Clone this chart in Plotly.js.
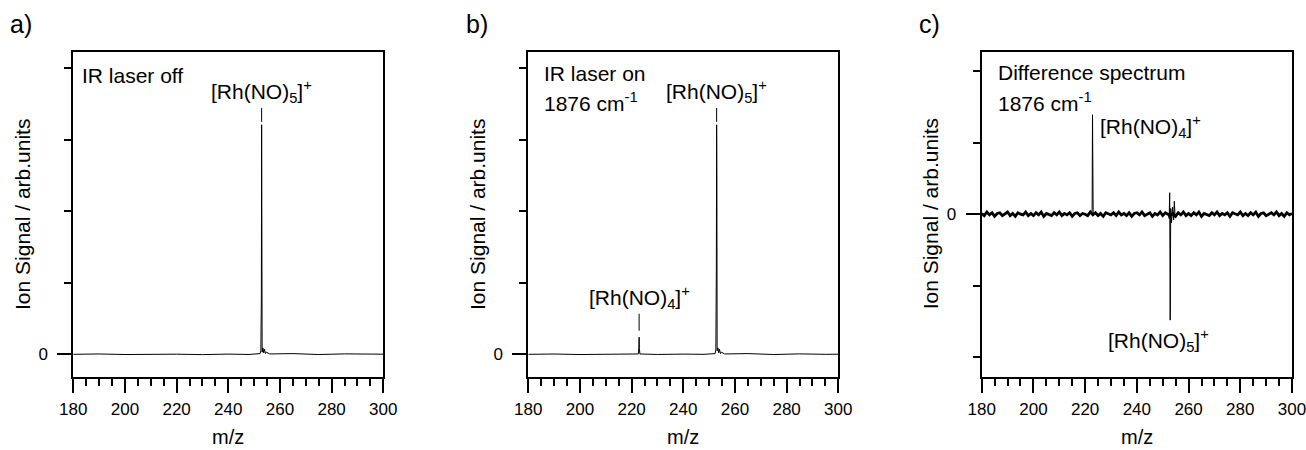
<!DOCTYPE html>
<html>
<head>
<meta charset="utf-8">
<script src="https://cdn.plot.ly/plotly-3.0.1.min.js"></script>
<style>html,body{margin:0;padding:0;background:#fff;}#chart{width:1306px;height:450px;}</style>
</head>
<body>
<div id="chart"></div>
<script>
// ---- data (m/z, ion signal in arbitrary units) ----
const mzA  = [180, 190, 200, 210, 220, 230, 240, 248, 252.3, 252.6, 252.8, 252.9, 253.0, 253.1, 253.4, 253.7, 254.0, 254.4, 254.8, 256, 265, 275, 285, 295, 300];
const intA = [0, 0.005, -0.003, 0.004, 0.002, -0.004, 0.003, -0.002, 0.01, 0.05, 0.8, 3.21, 0.75, 0.03, 0.09, 0.02, 0.07, 0.01, 0.03, 0.005, 0.01, -0.003, 0.006, 0.0, 0.002];

const mzB  = [180, 190, 200, 210, 218, 222.6, 222.8, 222.9, 223.0, 223.2, 230, 240, 248, 252.3, 252.6, 252.8, 252.9, 253.0, 253.1, 253.4, 253.7, 254.0, 254.4, 254.8, 256, 265, 275, 285, 295, 300];
const intB = [0, 0.004, -0.003, 0.003, 0.0, 0.005, 0.1, 0.24, 0.08, 0.005, -0.002, 0.003, 0.0, 0.01, 0.06, 1.22, 3.21, 2.48, 0.05, 0.09, 0.02, 0.07, 0.01, 0.03, 0.005, 0.01, -0.003, 0.006, 0.0, 0.002];

// difference spectrum: baseline noise sampled every 1 m/z from 180
const noiseC = [0.01,-0.02,0.03,-0.01,0.02,-0.03,0.01,0.02,-0.02,0.00,0.03,-0.02,0.01,-0.03,0.02,0.00,-0.01,0.03,-0.02,0.01,
 -0.02,0.02,-0.01,0.03,-0.03,0.01,0.00,-0.02,0.02,-0.01,0.03,-0.02,0.01,-0.01,0.02,-0.03,0.01,0.02,-0.02,0.01,
 0.00,-0.02,0.03,-0.01,0.02,-0.02,0.01,-0.03,0.02,0.00,-0.01,0.02,-0.02,0.03,-0.01,0.01,-0.02,0.02,-0.03,0.01,
 0.02,-0.01,0.03,-0.02,0.00,0.02,-0.03,0.01,-0.01,0.03,-0.02,0.02,0.00,-0.02,0.01,-0.03,0.02,-0.01,0.03,-0.02,
 0.01,-0.02,0.02,-0.01,0.03,-0.03,0.01,0.00,-0.02,0.02,-0.01,0.03,-0.02,0.01,-0.01,0.02,-0.03,0.02,0.00,-0.01,
 0.03,-0.02,0.01,-0.02,0.02,-0.01,0.03,-0.03,0.01,0.02,-0.02,0.00,0.02,-0.01,0.03,-0.02,0.01,-0.03,0.02,-0.01,0.01];
const mzCpk1  = [222.5, 222.7, 222.85, 222.95, 223.1, 223.3];
const intCpk1 = [0.0, 0.06, 1.39, 0.12, 0.03, 0.0];
const mzCpk2  = [252.2, 252.5, 252.7, 252.9, 253.1, 253.4, 253.8, 254.2, 254.5, 254.8, 255.2];
const intCpk2 = [0.0, -0.06, 0.30, -1.48, 0.08, -0.12, 0.10, -0.08, 0.18, -0.05, 0.0];

// peak labels
const lblNO5 = '[Rh(NO)<sub>5</sub>]<sup>+</sup>';
const lblNO4 = '[Rh(NO)<sub>4</sub>]<sup>+</sup>';
const peakNO5 = 252.9, peakNO4 = 222.9;

const xTickVals = [180, 200, 220, 240, 260, 280, 300];
const yTickAB = [0, 1, 2, 3, 4];
const yTickC  = [-2, -1, 0, 1, 2];
const xTitle = 'm/z';
const yTitle = 'Ion Signal / arb.units';

// ---- styling ----
const FONT = 'Liberation Sans, Arial, Helvetica, sans-serif';
const yDom = [1 - 376.7/450, 1 - 51.7/450];
function xAx(dom, anchor){
  return {domain: dom, anchor: anchor, range: [180, 300], tickvals: xTickVals,
    ticks: 'outside', ticklen: 14, tickwidth: 2, tickcolor: '#000',
    minor: {dtick: 5, ticks: 'outside', ticklen: 7, tickwidth: 2, tickcolor: '#000'},
    showline: true, linewidth: 2, linecolor: '#000', mirror: true, showgrid: false, zeroline: false,
    tickfont: {family: FONT, size: 17, color: '#000'}, ticklabelstandoff: 2, ticklabeloverflow: 'allow',
    automargin: false, fixedrange: true};
}
function yAx(anchor, rng, minorVals){
  return {domain: yDom, anchor: anchor, range: rng, tickvals: [0], ticktext: ['0'],
    ticks: 'outside', ticklen: 14, tickwidth: 2, tickcolor: '#000',
    minor: {tickvals: minorVals, ticks: 'outside', ticklen: 7, tickwidth: 2, tickcolor: '#000'},
    showline: true, linewidth: 2, linecolor: '#000', mirror: true, showgrid: false, zeroline: false,
    tickfont: {family: FONT, size: 17, color: '#000'}, ticklabelstandoff: 6, ticklabeloverflow: 'allow',
    automargin: false, fixedrange: true};
}
const lineSt = {color: '#000', width: 1};

const traces = [
  {x: mzA, y: intA, xaxis: 'x', yaxis: 'y', mode: 'lines', line: lineSt, hoverinfo: 'skip'},
  {x: mzB, y: intB, xaxis: 'x2', yaxis: 'y2', mode: 'lines', line: lineSt, hoverinfo: 'skip'},
  {x0: 180, dx: 1, y: noiseC, xaxis: 'x3', yaxis: 'y3', mode: 'lines', line: {color: '#000', width: 2.8}, hoverinfo: 'skip'},
  {x: mzCpk1, y: intCpk1, xaxis: 'x3', yaxis: 'y3', mode: 'lines', line: lineSt, hoverinfo: 'skip'},
  {x: mzCpk2, y: intCpk2, xaxis: 'x3', yaxis: 'y3', mode: 'lines', line: lineSt, hoverinfo: 'skip'}
];

const tf = {family: FONT, size: 21, color: '#000'};
function peakLbl(xr, yr, x, y, txt, ay){
  return {xref: xr, yref: yr, x: x, y: y, text: txt, showarrow: true, arrowhead: 0, arrowwidth: 1,
    arrowcolor: '#000', ax: 0, ay: ay, font: tf};
}
function note(xr, yr, x, y, txt, anchor){
  return {xref: xr, yref: yr, x: x, y: y, text: txt, showarrow: false, xanchor: anchor || 'left', yanchor: 'middle', font: tf};
}
function axTitles(n){
  const sx = n === 1 ? 'x' : 'x' + n, sy = n === 1 ? 'y' : 'y' + n;
  return [
    {xref: sx + ' domain', yref: sy + ' domain', x: 0.5, y: (376.7 - 436.5)/325, text: xTitle, showarrow: false, xanchor: 'center', yanchor: 'middle', font: {family: FONT, size: 20, color: '#000'}},
    {xref: sx + ' domain', yref: sy + ' domain', x: -51.5/310, y: 0.5, text: yTitle, textangle: -90, showarrow: false, xanchor: 'center', yanchor: 'middle', font: tf}
  ];
}
const letterFont = {family: FONT, size: 25, color: '#000'};
const annotations = [
  {xref: 'paper', yref: 'paper', x: 8/1306, y: 1 - 24/450, text: 'a)', showarrow: false, xanchor: 'left', yanchor: 'middle', font: letterFont},
  {xref: 'paper', yref: 'paper', x: 464/1306, y: 1 - 24/450, text: 'b)', showarrow: false, xanchor: 'left', yanchor: 'middle', font: letterFont},
  {xref: 'paper', yref: 'paper', x: 917/1306, y: 1 - 24/450, text: 'c)', showarrow: false, xanchor: 'left', yanchor: 'middle', font: letterFont},
  note('x domain', 'y domain', 0.02, (376.7 - 75)/325, 'IR laser off'),
  note('x2 domain', 'y2 domain', 0.045, (376.7 - 73.3)/325, 'IR laser on'),
  note('x2 domain', 'y2 domain', 0.045, (376.7 - 101.7)/325, '1876 cm<sup>-1</sup>'),
  note('x3 domain', 'y3 domain', 0.045, (376.7 - 72.7)/325, 'Difference spectrum'),
  note('x3 domain', 'y3 domain', 0.045, (376.7 - 101.7)/325, '1876 cm<sup>-1</sup>'),
  peakLbl('x', 'y', peakNO5, 3.25, lblNO5, -30),
  peakLbl('x2', 'y2', peakNO5, 3.25, lblNO5, -30),
  peakLbl('x2', 'y2', peakNO4, 0.33, lblNO4, -33),
  note('x3', 'y3', 224.8, 1.22, lblNO4, 'left'),
  note('x3', 'y3', 248.2, -1.76, lblNO5, 'center')
].concat(axTitles(1), axTitles(2), axTitles(3));

const layout = {
  width: 1306, height: 450, margin: {l: 0, r: 0, t: 0, b: 0},
  paper_bgcolor: '#fff', plot_bgcolor: '#fff', showlegend: false,
  font: {family: FONT, color: '#000'},
  xaxis: xAx([73.3/1306, 383.3/1306], 'y'),
  xaxis2: xAx([528.3/1306, 838.3/1306], 'y2'),
  xaxis3: xAx([981.7/1306, 1292/1306], 'y3'),
  yaxis: yAx('x', [-0.313, 4.232], yTickAB),
  yaxis2: yAx('x2', [-0.313, 4.232], yTickAB),
  yaxis3: yAx('x3', [-2.27, 2.27], yTickC),
  annotations: annotations
};
Plotly.newPlot('chart', traces, layout, {displayModeBar: false, staticPlot: true});
</script>
</body>
</html>
